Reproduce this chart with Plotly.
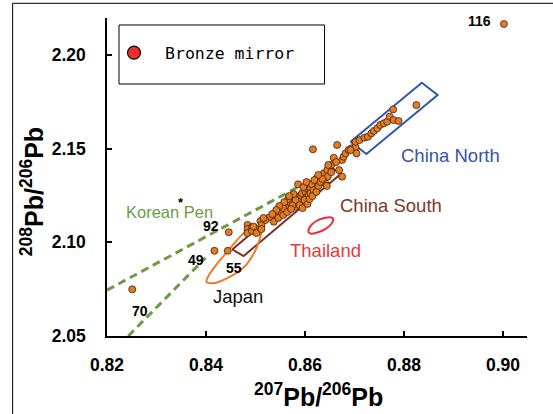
import plotly.graph_objects as go

# ---- Bronze mirror data (207Pb/206Pb, 208Pb/206Pb) ----
mirror_x = [0.9002, 0.8251, 0.8417, 0.8444, 0.8446,
            0.8484, 0.8484, 0.8484, 0.8493, 0.8493, 0.8502, 0.8502, 0.8510, 0.8512, 0.8512, 0.8496,
            0.8528, 0.8537, 0.8542, 0.8552, 0.8546, 0.8564, 0.8570, 0.8577, 0.8581, 0.8584,
            0.8591, 0.8594, 0.8601, 0.8601, 0.8594, 0.8604, 0.8587, 0.8586, 0.8556, 0.8575,
            0.8566, 0.8597, 0.8607, 0.8611, 0.8621, 0.8624, 0.8631, 0.8638, 0.8645, 0.8646,
            0.8641, 0.8653, 0.8658, 0.8675, 0.8616, 0.8665, 0.8675, 0.8678, 0.8682, 0.8688,
            0.8694, 0.8702, 0.8704, 0.8692, 0.8702, 0.8710, 0.8720, 0.8727, 0.8734, 0.8739,
            0.8746, 0.8752, 0.8759, 0.8766, 0.8771, 0.8779, 0.8778, 0.8789, 0.8825,
            0.8520, 0.8556, 0.8564, 0.8572, 0.8581, 0.8589, 0.8595, 0.8599, 0.8605, 0.8609,
            0.8611, 0.8617, 0.8615, 0.8623, 0.8627, 0.8631, 0.8635, 0.8613, 0.8603, 0.8577,
            0.8568, 0.8558, 0.8548, 0.8542, 0.8534, 0.8516, 0.8647, 0.8627, 0.8619, 0.8663,
            0.8669, 0.8653, 0.8644]
mirror_y = [2.2166, 2.0749, 2.0955, 2.0955, 2.1054,
            2.1093, 2.1071, 2.1050, 2.1080, 2.1061, 2.1071, 2.1050, 2.1114, 2.1093, 2.1071, 2.1084,
            2.1134, 2.1110, 2.1146, 2.1164, 2.1130, 2.1199, 2.1212, 2.1226, 2.1190, 2.1244,
            2.1235, 2.1262, 2.1270, 2.1235, 2.1208, 2.1289, 2.1217, 2.1310, 2.1183, 2.1199,
            2.1231, 2.1295, 2.1252, 2.1289, 2.1306, 2.1342, 2.1351, 2.1369, 2.1386, 2.1351,
            2.1315, 2.1413, 2.1452, 2.1351, 2.1497, 2.1520, 2.1440, 2.1457, 2.1475, 2.1493,
            2.1502, 2.1508, 2.1475, 2.1493, 2.1537, 2.1546, 2.1559, 2.1564, 2.1582, 2.1595,
            2.1609, 2.1627, 2.1636, 2.1644, 2.1671, 2.1653, 2.1710, 2.1648, 2.1733,
            2.1119, 2.1146, 2.1162, 2.1178, 2.1226, 2.1199, 2.1183, 2.1226, 2.1205, 2.1231,
            2.1263, 2.1279, 2.1247, 2.1269, 2.1301, 2.1322, 2.1338, 2.1312, 2.1322, 2.1258,
            2.1247, 2.1215, 2.1194, 2.1173, 2.1151, 2.1130, 2.1413, 2.1360, 2.1333, 2.1429,
            2.1386, 2.1375, 2.1301]

# ---- Regional fields ----
china_north_x = [0.8692, 0.8836, 0.8868, 0.8724, 0.8692]
china_north_y = [2.1537, 2.1852, 2.1787, 2.1472, 2.1537]
china_south_x = [0.8453, 0.8651, 0.8672, 0.8476, 0.8453]
china_south_y = [2.0962, 2.1405, 2.1365, 2.0927, 2.0962]
japan_x = [0.8401, 0.8405, 0.8419, 0.8439, 0.8461, 0.8481, 0.8496, 0.8506, 0.8512, 0.8508,
           0.8498, 0.8481, 0.8461, 0.8439, 0.8417, 0.8401]
japan_y = [2.0788, 2.0820, 2.0874, 2.0938, 2.1007, 2.1061, 2.1082, 2.1082, 2.1066, 2.1013,
           2.0948, 2.0879, 2.0836, 2.0804, 2.0783, 2.0788]
thailand_x = [0.8607, 0.8611, 0.8623, 0.8639, 0.8653, 0.8657, 0.8653, 0.8641, 0.8625, 0.8611, 0.8607]
thailand_y = [2.1055, 2.1087, 2.1114, 2.1130, 2.1133, 2.1125, 2.1098, 2.1071, 2.1053, 2.1047, 2.1055]
korea_upper_x = [0.8200, 0.8587]
korea_upper_y = [2.0745, 2.1297]
korea_lower_x = [0.8243, 0.8399]
korea_lower_y = [2.0500, 2.0917]

# ---- Labels ----
sample_labels = ["116", "92", "49", "55", "70"]
sample_label_x = [0.8952, 0.8410, 0.8379, 0.8457, 0.8266]
sample_label_y = [2.2182, 2.1090, 2.0906, 2.0861, 2.0635]
region_labels = ["China North", "China South", "Thailand", "Japan", "Korean Pen"]
region_label_x = [0.8893, 0.8774, 0.8642, 0.8465, 0.8327]
region_label_y = [2.1463, 2.1196, 2.0959, 2.0710, 2.1162]
region_colors = ["#3653AE", "#7B3A26", "#E8383A", "#111111", "#6E9A45"]
x_ticks = [0.82, 0.84, 0.86, 0.88, 0.90]
y_ticks = [2.05, 2.10, 2.15, 2.20]

fig = go.Figure()

fig.add_trace(go.Scatter(x=korea_upper_x, y=korea_upper_y, mode="lines",
                         line=dict(color="#6E9A45", width=3, dash="8px,5px"),
                         showlegend=False, hoverinfo="skip"))
fig.add_trace(go.Scatter(x=korea_lower_x, y=korea_lower_y, mode="lines",
                         line=dict(color="#6E9A45", width=3, dash="8px,5px"),
                         showlegend=False, hoverinfo="skip"))
fig.add_trace(go.Scatter(x=china_north_x, y=china_north_y, mode="lines",
                         line=dict(color="#2F55B5", width=2), showlegend=False))
fig.add_trace(go.Scatter(x=china_south_x, y=china_south_y, mode="lines",
                         line=dict(color="#7B3020", width=2), showlegend=False))
fig.add_trace(go.Scatter(x=japan_x, y=japan_y, mode="lines", line_shape="spline",
                         line=dict(color="#EE7A30", width=2), showlegend=False))
fig.add_trace(go.Scatter(x=thailand_x, y=thailand_y, mode="lines", line_shape="spline",
                         line=dict(color="#E8303A", width=2), showlegend=False))

fig.add_trace(go.Scatter(x=mirror_x, y=mirror_y, mode="markers",
                         marker=dict(size=7, color="#E57C22",
                                     line=dict(color="#3A2010", width=0.8)),
                         showlegend=False, name="Bronze mirror"))
# legend entry (red symbol as in the original legend)
fig.add_trace(go.Scatter(x=[None], y=[None], mode="markers", name="Bronze mirror",
                         marker=dict(size=13, color="#E8302A",
                                     line=dict(color="#000000", width=1.2)),
                         showlegend=True))

annotations = []
for t, x, y in zip(sample_labels, sample_label_x, sample_label_y):
    annotations.append(dict(x=x, y=y, xref="x", yref="y", text=t, showarrow=False,
                            font=dict(family="Liberation Sans, Arial", size=14, color="#000000",
                                      weight="bold")))
for t, x, y, c in zip(region_labels, region_label_x, region_label_y, region_colors):
    annotations.append(dict(x=x, y=y, xref="x", yref="y", text=t, showarrow=False,
                            font=dict(family="Liberation Sans, Arial", size=18.5 if t != "Korean Pen" else 16.5,
                                      color=c)))
annotations.append(dict(x=0.8350, y=2.1212, xref="x", yref="y", text="*", showarrow=False,
                        font=dict(family="Liberation Sans, Arial", size=13, color="#000000",
                                  weight="bold")))
# axis titles
annotations.append(dict(x=0.503, y=-0.185, xref="paper", yref="paper", xanchor="center",
                        yanchor="middle", showarrow=False,
                        text="<sup>207</sup>Pb/<sup>206</sup>Pb",
                        font=dict(family="Liberation Sans, Arial", size=25, color="#000000",
                                  weight="bold")))
annotations.append(dict(x=-0.178, y=0.453, xref="paper", yref="paper", xanchor="center",
                        yanchor="middle", showarrow=False, textangle=-90,
                        text="<sup>208</sup>Pb/<sup>206</sup>Pb",
                        font=dict(family="Liberation Sans, Arial", size=25, color="#000000",
                                  weight="bold")))

shapes = [
    # legend box
    dict(type="rect", xref="paper", yref="paper", x0=0.0286, x1=0.518, y0=0.7925, y1=0.978,
         line=dict(color="#000000", width=1), fillcolor="rgba(0,0,0,0)"),
    # outer frame (left and top)
    dict(type="line", xref="paper", yref="paper", x0=-0.2247, x1=-0.2247, y0=1.0462, y1=-0.3,
         line=dict(color="#000000", width=1)),
    dict(type="line", xref="paper", yref="paper", x0=-0.2247, x1=1.1, y0=1.0462, y1=1.0462,
         line=dict(color="#000000", width=1)),
]

fig.update_layout(
    width=553, height=414,
    margin=dict(l=107, r=26, t=18, b=78),
    paper_bgcolor="white", plot_bgcolor="white",
    annotations=annotations, shapes=shapes,
    showlegend=True,
    legend=dict(x=-0.0095, y=0.89, xanchor="left", yanchor="middle",
                bgcolor="rgba(0,0,0,0)", borderwidth=0, itemwidth=52,
                font=dict(family="DejaVu Sans Mono", size=16.5, color="#000000")),
    font=dict(family="Liberation Sans, Arial", color="#000000"),
)
fig.update_xaxes(range=[0.82, 0.90485], tickvals=x_ticks, ticktext=[f"{v:.2f}" for v in x_ticks],
                 showgrid=False, zeroline=False, showline=True, linecolor="#000000", linewidth=1.5,
                 ticks="inside", ticklen=5, tickwidth=1.5, tickcolor="#000000",
                 ticklabelstandoff=12,
                 tickfont=dict(family="Liberation Sans, Arial", size=17.5, color="#000000", weight="bold"))
fig.update_yaxes(range=[2.05, 2.2198], tickvals=y_ticks, ticktext=[f"{v:.2f}" for v in y_ticks],
                 showgrid=False, zeroline=False, showline=True, linecolor="#000000", linewidth=1.5,
                 ticks="inside", ticklen=5, tickwidth=1.5, tickcolor="#000000",
                 ticklabelstandoff=16,
                 tickfont=dict(family="Liberation Sans, Arial", size=17.5, color="#000000", weight="bold"))

fig.write_html("out.html")
